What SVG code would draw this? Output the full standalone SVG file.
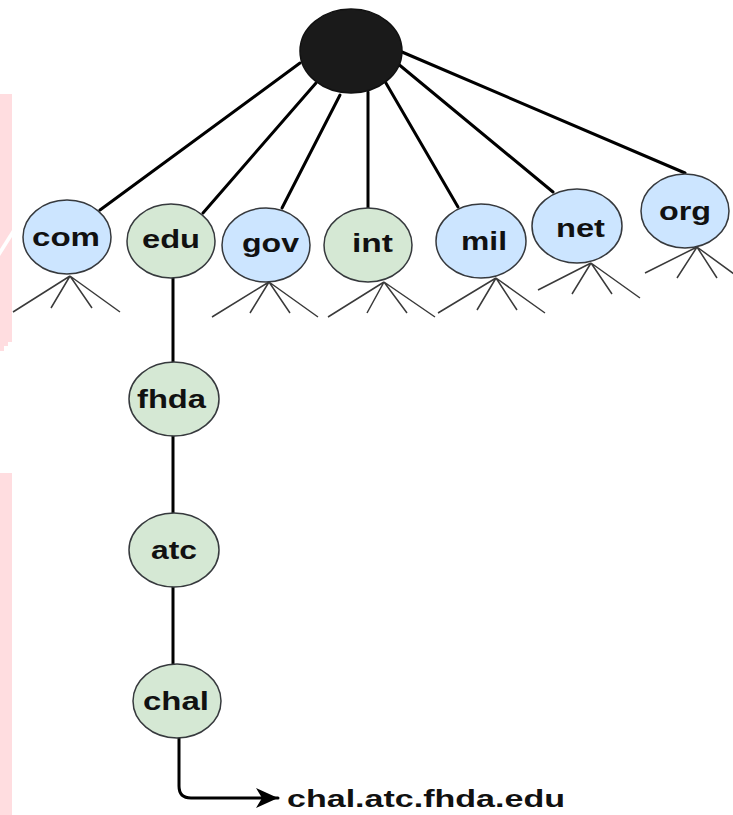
<svg xmlns="http://www.w3.org/2000/svg" width="733" height="815" viewBox="0 0 733 815">
<defs>
<style>
.bg{fill:#ffffff}
.pink{fill:#ffdde0}
.blue{fill:#cce5ff;stroke:#36393d;stroke-width:1.5}
.green{fill:#d5e8d4;stroke:#36393d;stroke-width:1.5}
.root{fill:#1a1a1a;stroke:#111111;stroke-width:1.5}
.edge{stroke:#000000;stroke-width:3;fill:none;stroke-linecap:round}
.fan{stroke:#3a3a3a;stroke-width:1.5;fill:none}
.lbl{font-family:"Liberation Sans",Arial,sans-serif;font-weight:bold;font-size:25px;fill:#111111}
.big{font-family:"Liberation Sans",Arial,sans-serif;font-weight:bold;font-size:24px;fill:#111111}
</style>
<marker id="arr" markerUnits="userSpaceOnUse" markerWidth="24" markerHeight="22" refX="22" refY="11" orient="auto">
<path d="M0,1 L22,11 L0,21 L6,11 Z" fill="#000000"/>
</marker>
</defs>
<rect class="bg" x="0" y="0" width="733" height="815"/>
<g id="background">
<polygon class="pink" points="0,94 12,94 12,230 0,249"/>
<polygon class="pink" points="0,256 12,237 12,342 8,342 8,346 4,346 4,351 0,351"/>
<rect class="pink" x="0" y="473" width="12" height="342"/>
</g>
<g id="connectors">
<line class="edge" x1="300" y1="63" x2="100" y2="210"/>
<line class="edge" x1="316" y1="83" x2="203" y2="213"/>
<line class="edge" x1="340" y1="95" x2="282" y2="208"/>
<line class="edge" x1="368" y1="92" x2="368" y2="208"/>
<line class="edge" x1="383" y1="78" x2="458" y2="207"/>
<line class="edge" x1="397" y1="63" x2="553" y2="192"/>
<line class="edge" x1="402" y1="52" x2="685" y2="173"/>
<line class="edge" x1="173" y1="278" x2="173" y2="362"/>
<line class="edge" x1="173" y1="436" x2="173" y2="513"/>
<line class="edge" x1="173" y1="587" x2="173" y2="664"/>
<path class="edge" d="M179,738 L179,786 Q179,798 191,798 L278,798" marker-end="url(#arr)"/>
<g id="fans">
<path class="fan" d="M70,276 L13,312 M70,276 L51,308 M70,276 L92,308 M70,276 L120,312"/>
<path class="fan" d="M269,282 L212,317 M269,282 L250,313 M269,282 L290,313 M269,282 L318,317"/>
<path class="fan" d="M384,282 L328,317 M384,282 L367,313 M384,282 L407,313 M384,282 L435,317"/>
<path class="fan" d="M496,278 L438,313 M496,278 L477,310 M496,278 L517,310 M496,278 L545,313"/>
<path class="fan" d="M591,263 L538,290 M591,263 L572,294 M591,263 L612,294 M591,263 L640,298"/>
<path class="fan" d="M697,247 L645,273 M697,247 L677,278 M697,247 L717,278 M697,247 L745,282"/>
</g>
</g>
<g id="node-root"><ellipse class="root" cx="351" cy="51" rx="51" ry="42"/></g>
<g id="node-com"><ellipse class="blue" cx="67" cy="237" rx="44" ry="37"/><text class="lbl" x="32" y="246" textLength="68" lengthAdjust="spacingAndGlyphs">com</text></g>
<g id="node-edu"><ellipse class="green" cx="171" cy="241" rx="44" ry="37"/><text class="lbl" x="142" y="248" textLength="58" lengthAdjust="spacingAndGlyphs">edu</text></g>
<g id="node-gov"><ellipse class="blue" cx="266" cy="245" rx="44" ry="37"/><text class="lbl" x="242" y="252" textLength="57" lengthAdjust="spacingAndGlyphs">gov</text></g>
<g id="node-int"><ellipse class="green" cx="368" cy="245" rx="44" ry="37"/><text class="lbl" x="352" y="252" textLength="41" lengthAdjust="spacingAndGlyphs">int</text></g>
<g id="node-mil"><ellipse class="blue" cx="481" cy="241" rx="45" ry="37"/><text class="lbl" x="461" y="250" textLength="46" lengthAdjust="spacingAndGlyphs">mil</text></g>
<g id="node-net"><ellipse class="blue" cx="577" cy="226" rx="45" ry="37"/><text class="lbl" x="556" y="237" textLength="49" lengthAdjust="spacingAndGlyphs">net</text></g>
<g id="node-org"><ellipse class="blue" cx="685" cy="211" rx="44" ry="37"/><text class="lbl" x="659" y="220" textLength="52" lengthAdjust="spacingAndGlyphs">org</text></g>
<g id="node-fhda"><ellipse class="green" cx="174" cy="399" rx="45" ry="37"/><text class="lbl" x="137" y="408" textLength="69" lengthAdjust="spacingAndGlyphs">fhda</text></g>
<g id="node-atc"><ellipse class="green" cx="174" cy="550" rx="45" ry="37"/><text class="lbl" x="151" y="559" textLength="46" lengthAdjust="spacingAndGlyphs">atc</text></g>
<g id="node-chal"><ellipse class="green" cx="177" cy="701" rx="44" ry="37"/><text class="lbl" x="143" y="710" textLength="66" lengthAdjust="spacingAndGlyphs">chal</text></g>
<g id="label-fqdn"><text class="big" x="287" y="807" textLength="278" lengthAdjust="spacingAndGlyphs">chal.atc.fhda.edu</text></g>
</svg>
